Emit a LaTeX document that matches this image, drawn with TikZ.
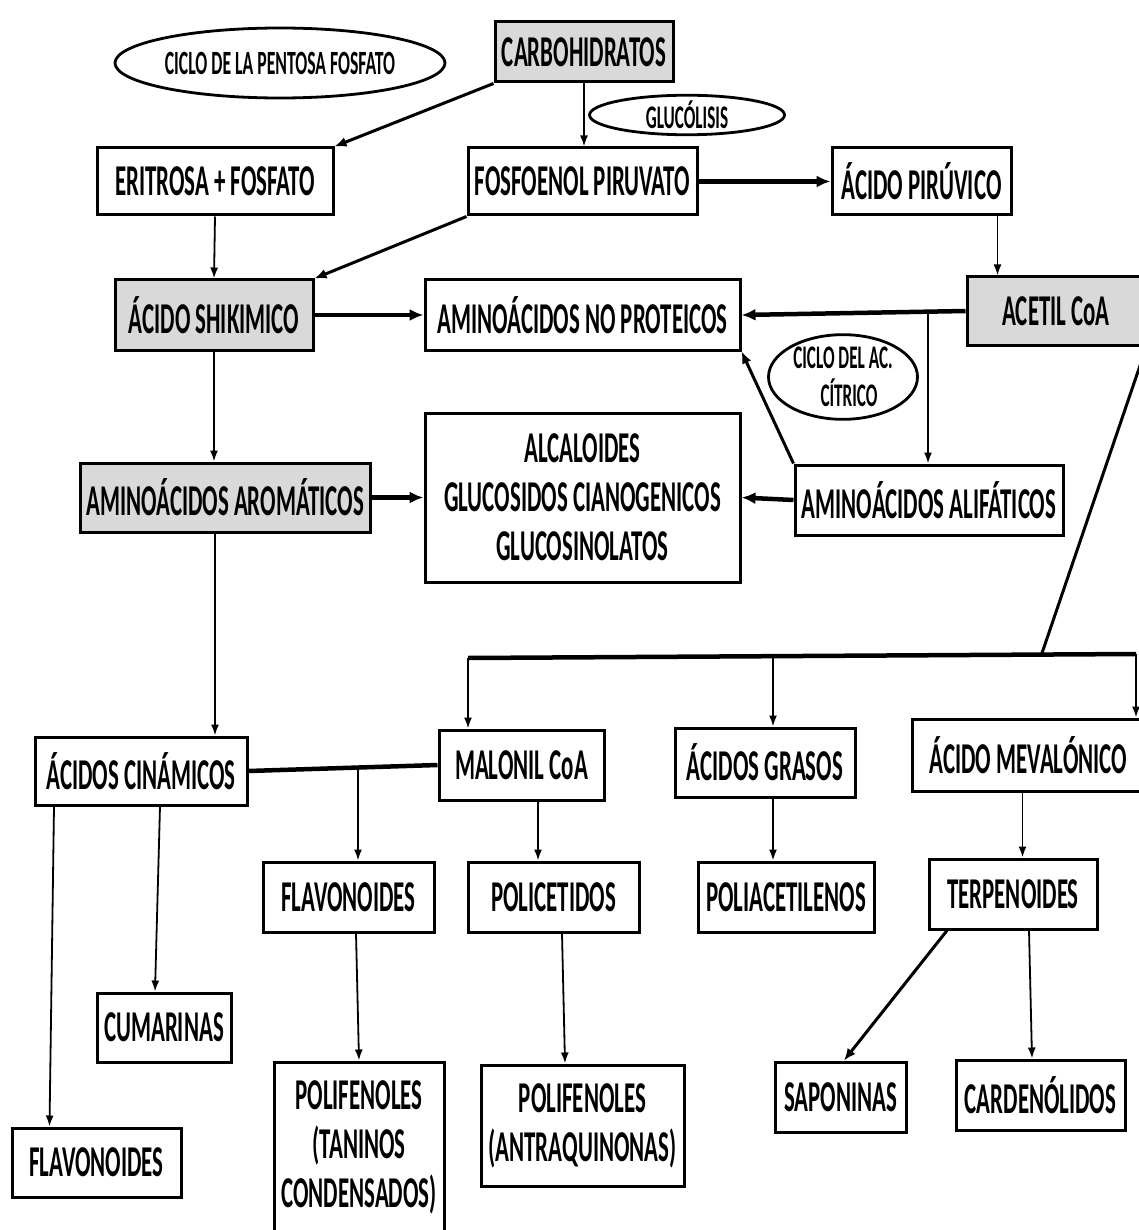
\documentclass[tikz,border=0pt]{standalone}
\usepackage{fontspec}
\setmainfont{Carlito}[FakeStretch=0.52]
\usepackage{xcolor}
\usepackage{tikz}
\usetikzlibrary{arrows.meta,shapes.geometric}

\begin{document}
\begin{tikzpicture}[
x=1pt,y=-1pt,
font=\fontsize{44}{49}\selectfont\bfseries,
box/.style={draw, line width=3pt, rectangle, inner sep=0pt, align=center, fill=white},
grey/.style={box, fill=black!15},
oval/.style={draw, line width=2.8pt, ellipse, inner sep=0pt, align=center, font=\fontsize{34}{38}\selectfont\bfseries},
arr/.style={-{Latex[length=11pt,width=8pt]}, line width=1.8pt},
thickarr/.style={-{Latex[length=14pt,width=12pt]}, line width=4.5pt},
thickline/.style={line width=4.5pt},
midarr/.style={-{Latex[length=12pt,width=10pt]}, line width=3pt}
]
\useasboundingbox (0,0) rectangle (1138,1230);
\node[grey, minimum width=178pt, minimum height=60pt] (carb) at (584,52) {CARBOHIDRATOS};
\node[oval, minimum width=330pt, minimum height=70pt] (pentosa) at (280,63) {CICLO DE LA PENTOSA FOSFATO};
\node[oval, minimum width=195pt, minimum height=36pt, font=\fontsize{33}{38}\selectfont\bfseries] (gluco) at (687,115) {GLUCÓLISIS};
\node[box, minimum width=236pt, minimum height=67pt] (eritrosa) at (215,181.5) {ERITROSA + FOSFATO};
\node[box, minimum width=229pt, minimum height=67pt] (fosfo) at (582.5,181.5) {FOSFOENOL PIRUVATO};
\node[box, minimum width=179pt, minimum height=67pt] (piruv) at (921.5,181.5) {ÁCIDO PIRÚVICO};
\node[grey, minimum width=198pt, minimum height=70pt] (shiki) at (214,315) {ÁCIDO SHIKIMICO};
\node[box, minimum width=315pt, minimum height=70pt] (noprot) at (582.5,315) {AMINOÁCIDOS NO PROTEICOS};
\node[grey, minimum width=178pt, minimum height=68pt] (acetil) at (1056,311) {ACETIL CoA};
\node[oval, minimum width=149pt, minimum height=84pt, font=\fontsize{33}{38}\selectfont\bfseries] (citrico) at (843,377) {CICLO DEL AC.\\\hspace*{12pt}CÍTRICO};
\node[box, minimum width=315pt, minimum height=169pt] (alcal) at (582.5,497.5) {ALCALOIDES\\GLUCOSIDOS CIANOGENICOS\\GLUCOSINOLATOS};
\node[grey, minimum width=290pt, minimum height=69pt] (arom) at (225,497.5) {AMINOÁCIDOS AROMÁTICOS};
\node[box, minimum width=268pt, minimum height=70pt] (alif) at (929,500) {AMINOÁCIDOS ALIFÁTICOS};
\node[box, minimum width=212pt, minimum height=68pt] (cinam) at (141,771) {ÁCIDOS CINÁMICOS};
\node[box, minimum width=165pt, minimum height=70pt] (malonil) at (521.5,765) {MALONIL CoA};
\node[box, minimum width=180pt, minimum height=69pt] (grasos) at (765,762.5) {ÁCIDOS GRASOS};
\node[box, minimum width=233pt, minimum height=72pt] (meval) at (1028.5,755) {ÁCIDO MEVALÓNICO};
\node[box, minimum width=171pt, minimum height=70pt] (flavo) at (348.5,897) {FLAVONOIDES};
\node[box, minimum width=171pt, minimum height=70pt] (polic) at (553.5,897) {POLICETIDOS};
\node[box, minimum width=176pt, minimum height=70pt] (poliac) at (786,897) {POLIACETILENOS};
\node[box, minimum width=168pt, minimum height=70pt] (terp) at (1013,894) {TERPENOIDES};
\node[box, minimum width=134pt, minimum height=69pt] (cumar) at (164,1027.5) {CUMARINAS};
\node[box, minimum width=169pt, minimum height=69pt] (flavob) at (96.5,1162.5) {FLAVONOIDES};
\node[box, minimum width=170pt, minimum height=170pt] (tanin) at (359,1147) {POLIFENOLES\\(TANINOS\\CONDENSADOS)};
\node[box, minimum width=203pt, minimum height=121pt] (antra) at (582.5,1125.5) {POLIFENOLES\\(ANTRAQUINONAS)};
\node[box, minimum width=131pt, minimum height=70pt] (sapon) at (840.5,1097) {SAPONINAS};
\node[box, minimum width=169pt, minimum height=70pt] (carden) at (1040.5,1095) {CARDENÓLIDOS};
\coordinate (bra) at (928,314);
\coordinate (bj) at (1041,656);
\coordinate (busL) at (468,658);
\coordinate (busM) at (773,657);
\coordinate (busR) at (1136,654);
\coordinate (bc) at (358,768);
\draw[midarr] (carb.south west) -- (eritrosa.north east);
\draw[arr] (carb.south) -- (carb.south |- fosfo.north);
\draw[arr] (eritrosa.south) -- (shiki.north);
\draw[midarr] (fosfo.south west) -- (shiki.north east);
\draw[thickarr] (fosfo.east) -- (piruv.west);
\draw[arr] ([xshift=-15pt]piruv.south east) -- ([xshift=-15pt]piruv.south east |- acetil.north);
\draw[thickarr] (shiki.east) -- (noprot.west);
\draw[thickarr] (acetil.west) -- (noprot.east);
\draw[arr] (bra) -- (bra |- alif.north);
\draw[midarr] (alif.north west) -- (noprot.south east);
\draw[arr] (shiki.south) -- (shiki.south |- arom.north);
\draw[thickarr] (arom.east) -- (alcal.west);
\draw[thickarr] (alif.west) -- (alcal.east);
\draw[arr] ([xshift=-10pt]arom.south) -- ([xshift=-10pt]arom.south |- cinam.north);
\draw[midarr, -] (acetil.south east) -- (bj);
\draw[thickline] (busL) -- (busR);
\draw[arr] (busL) -- (busL |- malonil.north);
\draw[arr] (busM) -- (busM |- grasos.north);
\draw[arr] (busR) -- (busR |- meval.north);
\draw[thickline] (cinam.east) -- (malonil.west);
\draw[arr] (bc) -- (bc |- flavo.north);
\draw[arr] ([xshift=16.5pt]malonil.south) -- ([xshift=16.5pt]malonil.south |- polic.north);
\draw[arr] (busM |- grasos.south) -- (busM |- poliac.north);
\draw[arr] ([xshift=-6pt]meval.south) -- ([xshift=-6pt]meval.south |- terp.north);
\draw[arr] ([xshift=-87pt]cinam.south) -- ([xshift=-47pt]flavob.north);
\draw[arr] ([xshift=19pt]cinam.south) -- ([xshift=-9pt]cumar.north);
\draw[arr] ([xshift=7.5pt]flavo.south) -- (tanin.north);
\draw[arr] ([xshift=8.5pt]polic.south) -- ([xshift=-17.5pt]antra.north);
\draw[midarr] ([xshift=-66pt]terp.south) -- ([xshift=3.5pt]sapon.north);
\draw[arr] ([xshift=16pt]terp.south) -- ([xshift=-8.5pt]carden.north);
\end{tikzpicture}
\end{document}
